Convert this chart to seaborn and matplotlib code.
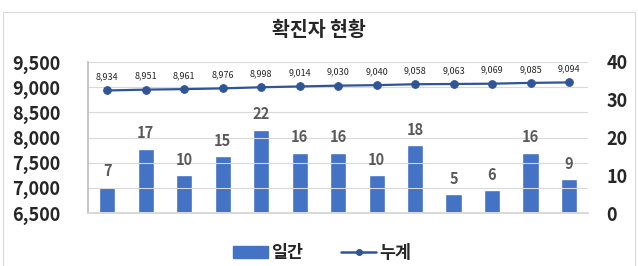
import matplotlib
matplotlib.use("Agg")
import matplotlib.pyplot as plt
import seaborn as sns
import pandas as pd
from matplotlib.patches import Rectangle
from matplotlib.lines import Line2D

dates = ["4/1", "4/2", "4/3", "4/4", "4/5", "4/6", "4/7", "4/8", "4/9", "4/10", "4/11", "4/12", "4/13"]
daily = [7, 17, 10, 15, 22, 16, 16, 10, 18, 5, 6, 16, 9]
cumulative = [8934, 8951, 8961, 8976, 8998, 9014, 9030, 9040, 9058, 9063, 9069, 9085, 9094]
left_ticks = [6500, 7000, 7500, 8000, 8500, 9000, 9500]
right_ticks = [0, 10, 20, 30, 40]

sns.set_theme(style="white")
plt.rcParams['font.family'] = ['Noto Sans CJK KR', 'DejaVu Sans']

df = pd.DataFrame({"date": dates, "daily": daily, "cum": cumulative})

fig = plt.figure(figsize=(6.38, 2.66), dpi=100)
fig.add_artist(Rectangle((0.005, -0.01), 0.99, 0.965, transform=fig.transFigure,
                         fill=False, edgecolor="#D9D9D9", linewidth=0.8))
ax1 = fig.add_axes([0.138, 0.199, 0.784, 0.568])
ax2 = ax1.twinx()

bar_color = "#4472C4"
line_color = "#2F5597"

sns.barplot(data=df, x="date", y="daily", color=bar_color, width=0.42, ax=ax2,
            saturation=1)
ax2.set_ylim(0, 40)
ax2.set_yticks(right_ticks)
ax2.set_yticklabels([str(t) for t in right_ticks], fontsize=13, fontweight="bold")

sns.lineplot(x=list(range(len(dates))), y=cumulative, ax=ax1, color=line_color,
             marker="o", markersize=5.5, linewidth=1.6, markeredgecolor=line_color)
ax1.set_ylim(6500, 9500)
ax1.set_yticks(left_ticks)
ax1.set_yticklabels([f"{t:,}" for t in left_ticks], fontsize=13, fontweight="bold")
ax1.set_xlim(-0.5, len(dates) - 0.5)
ax1.set_xticks(range(len(dates)))
ax1.set_xticklabels(dates, fontsize=8, fontweight="bold", color="#404040")
for i, v in enumerate(cumulative):
    ax1.text(i, v + 180, f"{v:,}", ha="center", va="bottom", fontsize=6.5,
             fontweight="medium", color="#262626", zorder=5)
for i, v in enumerate(daily):
    ax1.text(i, v + 2, str(v), transform=ax2.transData, ha="center", va="bottom",
             fontsize=10.5, fontweight="bold", color="#595959", zorder=5)
ax1.grid(axis="y", color="#D9D9D9", linewidth=0.8, zorder=0)
ax1.set_axisbelow(True)
ax1.set_zorder(ax2.get_zorder() + 1)
ax1.patch.set_visible(False)

for ax in (ax1, ax2):
    ax.set_xlabel("")
    ax.set_ylabel("")
    for s in ["top", "right", "left"]:
        ax.spines[s].set_visible(False)
    ax.spines["bottom"].set_color("#D9D9D9")
    ax.tick_params(axis="both", length=0, pad=3)
ax1.spines["left"].set_visible(True)
ax1.spines["left"].set_color("#BFBFBF")
ax2.tick_params(axis="y", pad=13)
ax1.tick_params(axis="y", pad=20)
ax1.tick_params(axis="x", pad=9)
ax2.set_xticks([])

fig.text(0.5, 0.885, "확진자 현황", ha="center", va="center", fontsize=14,
         fontweight="bold", color="#262626")

handles = [Rectangle((0, 0), 1, 1, color=bar_color),
           Line2D([0], [0], color=line_color, marker="o", markersize=4, linewidth=1.8)]
fig.legend(handles, ["일간", "누계"], loc="center", bbox_to_anchor=(0.505, 0.05),
           ncol=2, frameon=False, handlelength=2.0, columnspacing=2.2,
           handletextpad=0.2, prop={"weight": "bold", "size": 12.5})

fig.savefig("out.png", dpi=100)
